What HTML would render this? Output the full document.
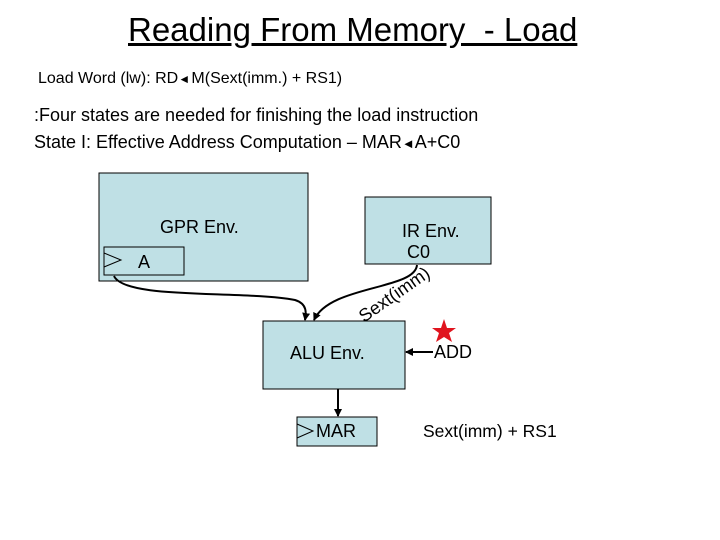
<!DOCTYPE html>
<html><head><meta charset="utf-8"><style>
body{margin:0;width:720px;height:540px;background:#fff;position:relative;overflow:hidden;font-family:"Liberation Sans",Arial,sans-serif;}
.t{position:absolute;white-space:nowrap;color:#000;}
</style></head><body>
<div class="t" style="left:128px;top:11px;font-size:33px;text-decoration:underline;">Reading From Memory&nbsp; - Load</div>
<div class="t" style="left:38px;top:70px;font-size:16px;">Load Word (lw): RD<span style="font-size:12px">&#9668;</span>&#8202;M(Sext(imm.) + RS1)</div>
<div class="t" style="left:34px;top:105px;font-size:18px;">:Four states are needed for finishing the load instruction</div>
<div class="t" style="left:34px;top:132px;font-size:18px;">State I: Effective Address Computation – MAR<span style="font-size:13px">&#9668;</span>A+C0</div>
<svg width="720" height="540" style="position:absolute;left:0;top:0">
<defs><marker id="ar" markerWidth="8" markerHeight="8" refX="7" refY="4" orient="auto" markerUnits="userSpaceOnUse"><path d="M0,0 L8,4 L0,8 z" fill="#000"/></marker></defs>
<g stroke="#000" stroke-width="1" fill="#bfe0e5">
<rect x="99" y="173" width="209" height="108"/>
<rect x="104" y="247" width="80" height="28"/>
<rect x="365" y="197" width="126" height="67"/>
<rect x="263" y="321" width="142" height="68"/>
<rect x="297" y="417" width="80" height="29"/>
</g>
<g stroke="#000" stroke-width="1" fill="none">
<path d="M104,253 L121,260 L104,267"/>
<path d="M297,424 L313,431 L297,438"/>
</g>
<g stroke="#000" stroke-width="2" fill="none">
<path d="M114,276 C125,300 240,290 295,300 C308,304 306,314 305,320" marker-end="url(#ar)"/>
<path d="M417,265 C415,290 330,285 314,320" marker-end="url(#ar)"/>
<path d="M433,352 L406,352" marker-end="url(#ar)"/>
<path d="M338,389 L338,416" marker-end="url(#ar)"/>
</g>
<polygon points="444,319 447,328 456,328 449,333 452,342 444,337 436,342 439,333 432,328 441,328" fill="#e0141e"/>
</svg>
<div class="t" style="left:160px;top:217px;font-size:18px;">GPR Env.</div>
<div class="t" style="left:138px;top:252px;font-size:18px;">A</div>
<div class="t" style="left:402px;top:221px;font-size:18px;">IR Env.</div>
<div class="t" style="left:407px;top:242px;font-size:18px;">C0</div>
<div class="t" style="left:367px;top:306px;font-size:18px;transform:rotate(-35deg);transform-origin:left bottom;">Sext(imm)</div>
<div class="t" style="left:290px;top:343px;font-size:18px;">ALU Env.</div>
<div class="t" style="left:434px;top:342px;font-size:18px;">ADD</div>
<div class="t" style="left:316px;top:421px;font-size:18px;">MAR</div>
<div class="t" style="left:423px;top:421px;font-size:17.5px;">Sext(imm) + RS1</div>
</body></html>
